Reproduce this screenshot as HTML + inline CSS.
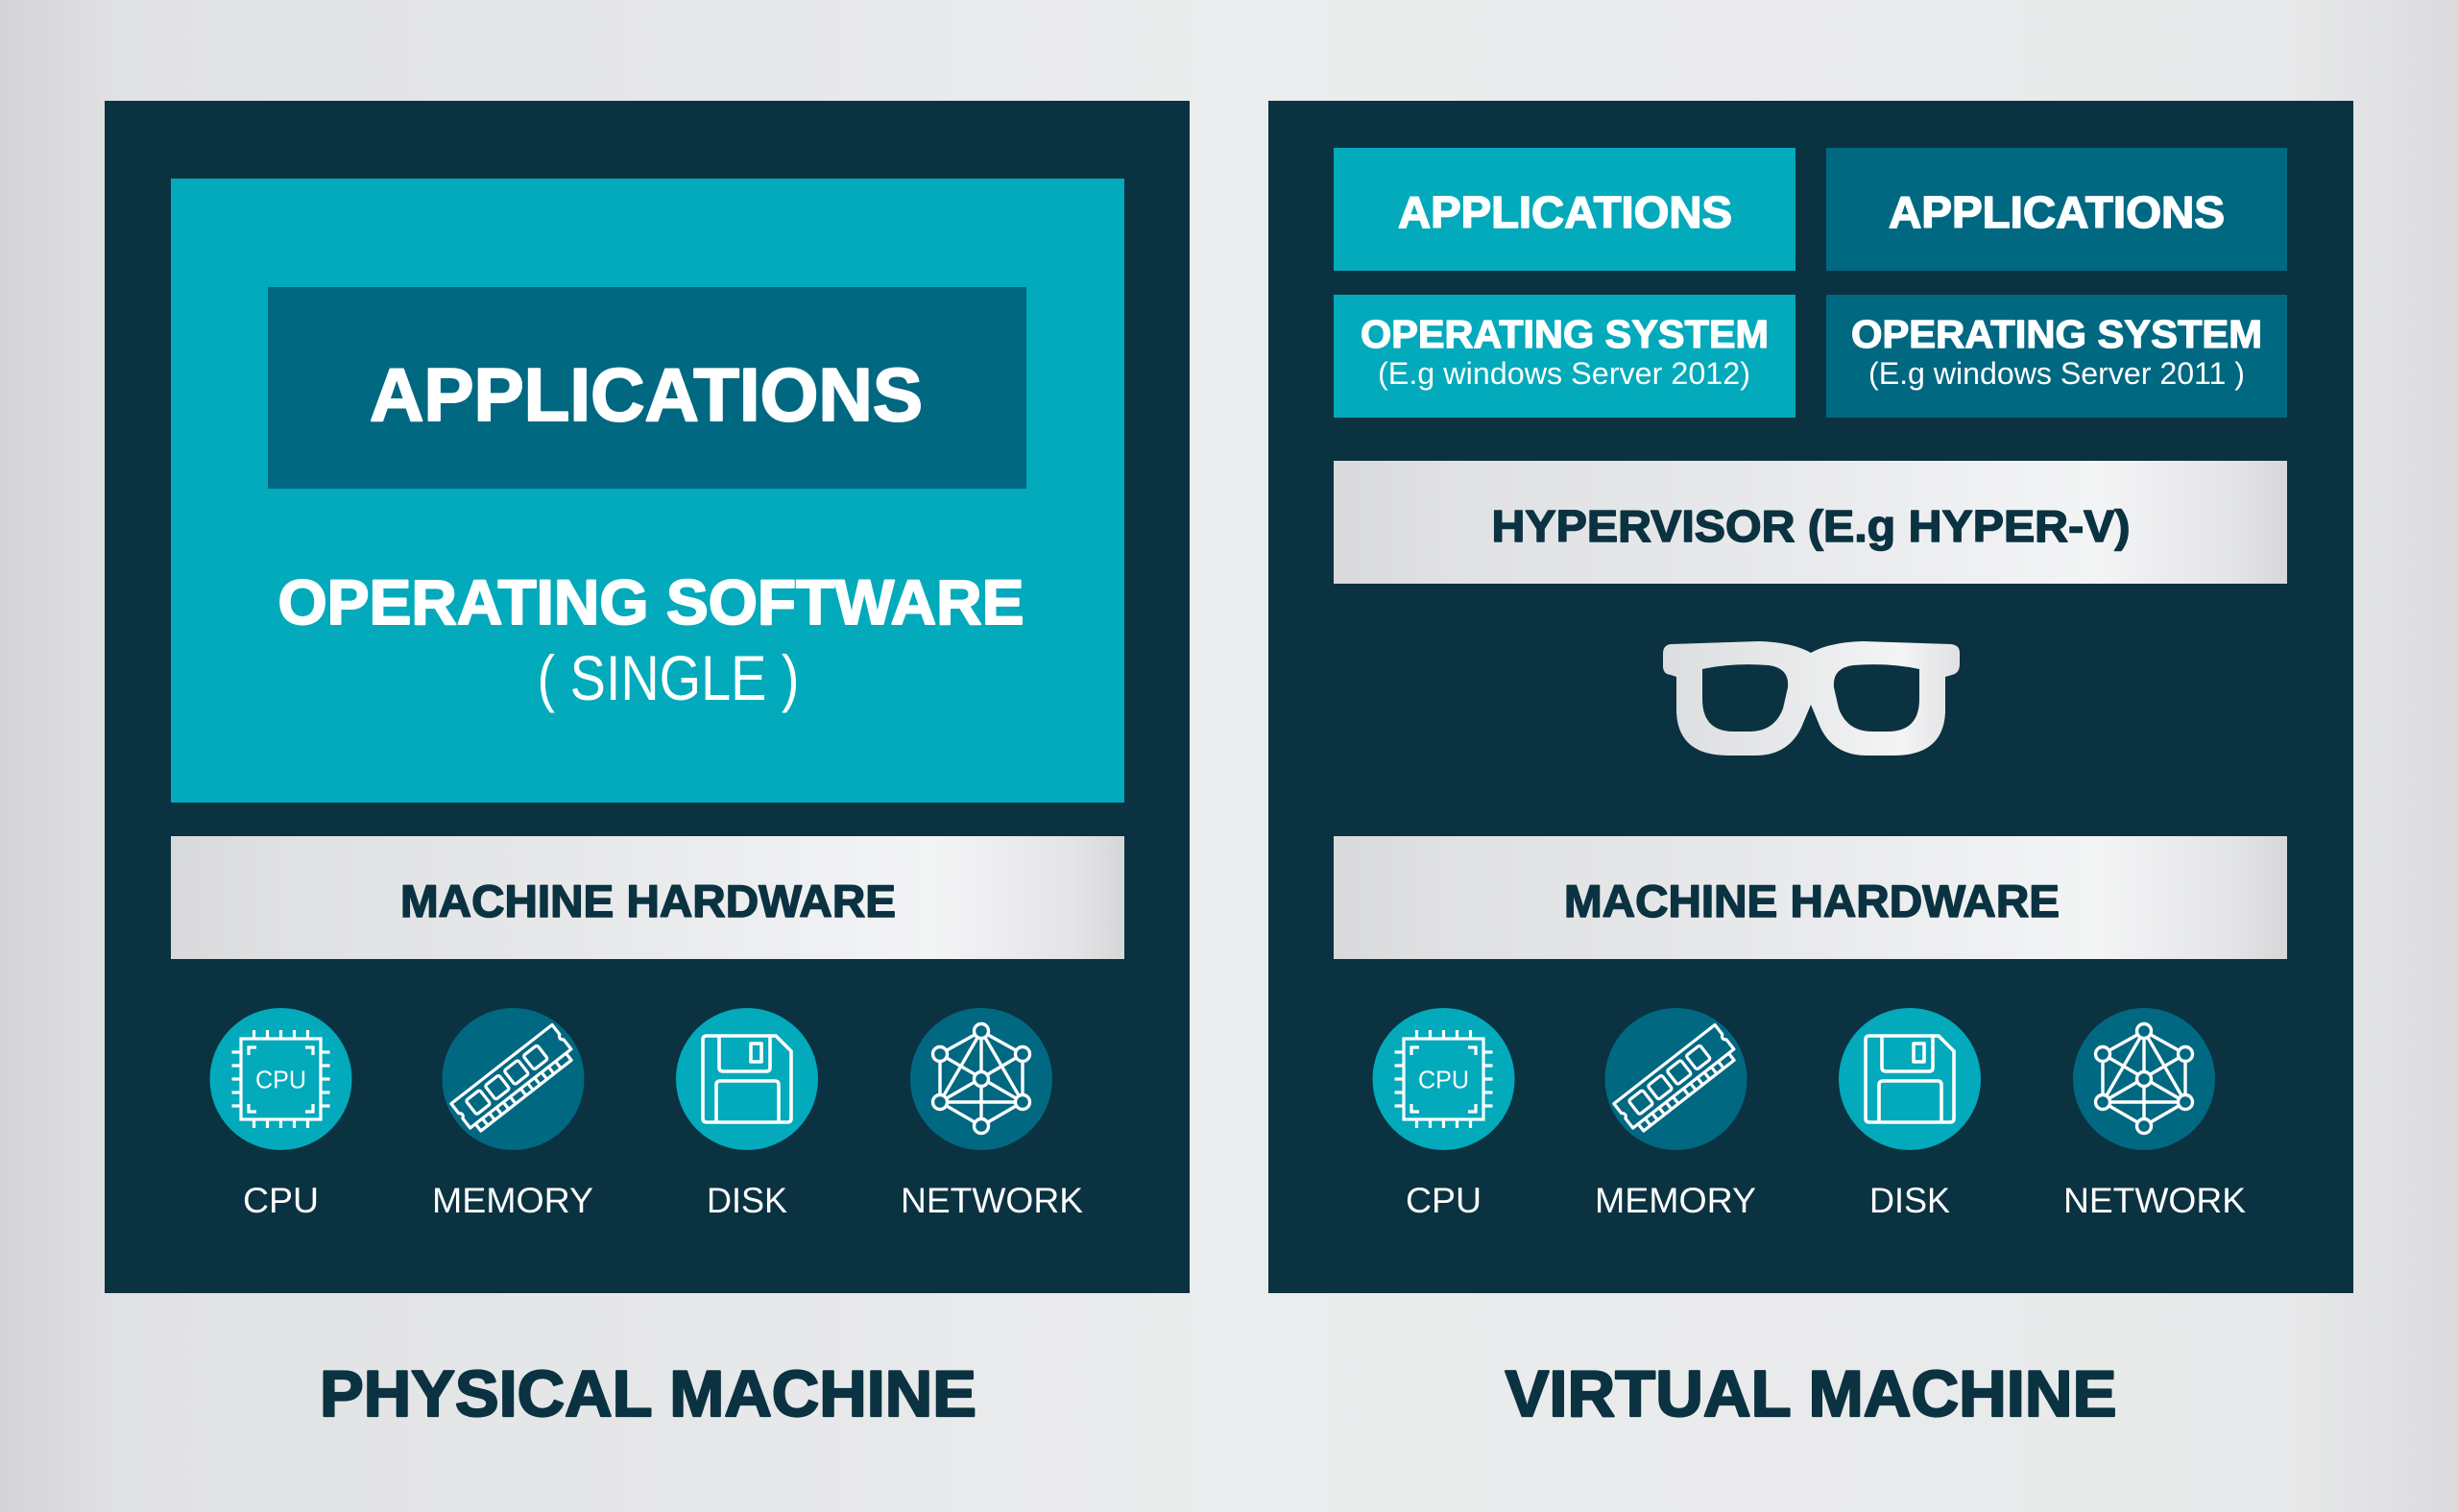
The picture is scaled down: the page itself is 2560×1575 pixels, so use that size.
<!DOCTYPE html>
<html>
<head>
<meta charset="utf-8">
<style>
  html,body{margin:0;padding:0;width:2560px;height:1575px;overflow:hidden;}
  svg{display:block;}
  text{font-family:"Liberation Sans",Arial,sans-serif;}
  .hb{paint-order:stroke;stroke-linejoin:round;}
</style>
</head>
<body>
<svg width="2560" height="1575" viewBox="0 0 2560 1575" xmlns="http://www.w3.org/2000/svg">
  <defs>
    <linearGradient id="bg" x1="0" y1="0" x2="1" y2="0">
      <stop offset="0" stop-color="#d3d4d6"/>
      <stop offset="0.05" stop-color="#e1e2e4"/>
      <stop offset="0.5" stop-color="#ebeced"/>
      <stop offset="0.93" stop-color="#e8e9ea"/>
      <stop offset="1" stop-color="#dadbdd"/>
    </linearGradient>
    <linearGradient id="bar" x1="0" y1="0" x2="1" y2="0">
      <stop offset="0" stop-color="#d8d9db"/>
      <stop offset="0.12" stop-color="#e0e1e3"/>
      <stop offset="0.5" stop-color="#e9eaec"/>
      <stop offset="0.8" stop-color="#f3f4f5"/>
      <stop offset="0.94" stop-color="#e4e5e7"/>
      <stop offset="1" stop-color="#d6d7d9"/>
    </linearGradient>
    <linearGradient id="gl" x1="0" y1="0" x2="1" y2="0">
      <stop offset="0" stop-color="#dcdddf"/>
      <stop offset="0.5" stop-color="#eaebec"/>
      <stop offset="0.8" stop-color="#f4f4f5"/>
      <stop offset="1" stop-color="#e0e1e3"/>
    </linearGradient>
  </defs>

  <!-- background -->
  <rect x="0" y="0" width="2560" height="1575" fill="url(#bg)"/>

  <!-- ================= LEFT PANEL ================= -->
  <rect x="109" y="105" width="1130" height="1242" fill="#0b3241"/>
  <rect x="178" y="186" width="993" height="650" fill="#02aabb"/>
  <rect x="279" y="299" width="790" height="210" fill="#016882"/>
  <text class="hb" x="673" y="438" font-size="78" font-weight="bold" fill="#ffffff" stroke="#ffffff" stroke-width="2" text-anchor="middle" textLength="576" lengthAdjust="spacingAndGlyphs">APPLICATIONS</text>
  <text class="hb" x="678" y="650" font-size="66" font-weight="bold" fill="#ffffff" stroke="#ffffff" stroke-width="2" text-anchor="middle" textLength="777" lengthAdjust="spacingAndGlyphs">OPERATING SOFTWARE</text>
  <text x="696" y="729" font-size="66" fill="#ffffff" text-anchor="middle" textLength="273" lengthAdjust="spacingAndGlyphs">( SINGLE )</text>

  <rect x="178" y="871" width="993" height="128" fill="url(#bar)"/>
  <text class="hb" x="675" y="955" font-size="47" font-weight="bold" fill="#0b3241" stroke="#0b3241" stroke-width="1.5" text-anchor="middle" textLength="516" lengthAdjust="spacingAndGlyphs">MACHINE HARDWARE</text>

  <!-- ================= RIGHT PANEL ================= -->
  <rect x="1321" y="105" width="1130" height="1242" fill="#0b3241"/>
  <rect x="1389" y="154" width="481" height="128" fill="#02aabb"/>
  <rect x="1902" y="154" width="480" height="128" fill="#016882"/>
  <rect x="1389" y="307" width="481" height="128" fill="#02aabb"/>
  <rect x="1902" y="307" width="480" height="128" fill="#016882"/>
  <text class="hb" x="1630" y="237" font-size="46" font-weight="bold" fill="#ffffff" stroke="#ffffff" stroke-width="1.5" text-anchor="middle" textLength="348" lengthAdjust="spacingAndGlyphs">APPLICATIONS</text>
  <text class="hb" x="2142" y="237" font-size="46" font-weight="bold" fill="#ffffff" stroke="#ffffff" stroke-width="1.5" text-anchor="middle" textLength="350" lengthAdjust="spacingAndGlyphs">APPLICATIONS</text>
  <text class="hb" x="1629.5" y="362" font-size="41" font-weight="bold" fill="#ffffff" stroke="#ffffff" stroke-width="1.3" text-anchor="middle" textLength="425" lengthAdjust="spacingAndGlyphs">OPERATING SYSTEM</text>
  <text x="1629" y="400" font-size="32" fill="#ffffff" text-anchor="middle" textLength="388" lengthAdjust="spacingAndGlyphs">(E.g windows Server 2012)</text>
  <text class="hb" x="2142" y="362" font-size="41" font-weight="bold" fill="#ffffff" stroke="#ffffff" stroke-width="1.3" text-anchor="middle" textLength="428" lengthAdjust="spacingAndGlyphs">OPERATING SYSTEM</text>
  <text x="2142" y="400" font-size="32" fill="#ffffff" text-anchor="middle" textLength="392" lengthAdjust="spacingAndGlyphs">(E.g windows Server 2011 )</text>

  <rect x="1389" y="480" width="993" height="128" fill="url(#bar)"/>
  <text class="hb" x="1886" y="564" font-size="46" font-weight="bold" fill="#0b3241" stroke="#0b3241" stroke-width="1.5" text-anchor="middle" textLength="665" lengthAdjust="spacingAndGlyphs">HYPERVISOR (E.g HYPER-V)</text>

  <!-- glasses -->
  <path fill="url(#gl)" fill-rule="evenodd" d="
    M1740,671 Q1732,672 1732,681 L1732,694 Q1732,702 1740,703 L1746,705 L1746,742
    Q1748,787 1800,787 L1828,787 Q1862,787 1876,758 L1886,734 L1896,758 Q1910,787 1944,787 L1972,787
    Q2024,787 2026,742 L2026,705 L2033,703 Q2041,701 2041,692 L2041,680 Q2041,672 2032,671
    L1940,668 Q1905,669 1886,680 Q1867,669 1832,668 Z
    M1773,697 L1773,728 Q1773,762 1806,762 L1822,762 Q1848,762 1857,738 L1862,716 Q1864,696 1842,693 Q1805,690 1773,697 Z
    M1999,697 L1999,728 Q1999,762 1966,762 L1950,762 Q1924,762 1915,738 L1910,716 Q1908,696 1930,693 Q1967,690 1999,697 Z"/>

  <rect x="1389" y="871" width="993" height="128" fill="url(#bar)"/>
  <text class="hb" x="1887" y="955" font-size="47" font-weight="bold" fill="#0b3241" stroke="#0b3241" stroke-width="1.5" text-anchor="middle" textLength="516" lengthAdjust="spacingAndGlyphs">MACHINE HARDWARE</text>

  <!-- ================= ICONS (left) ================= -->
  <g transform="translate(292.5,1124)">
    <circle r="74" fill="#02aabb"/>
    <g stroke="#ffffff" stroke-width="3.2" fill="none">
      <rect x="-41.5" y="-42" width="83" height="84"/>
      <path d="M-28,-51V-42M-14,-51V-42M0,-51V-42M14,-51V-42M28,-51V-42
               M-28,42V51M-14,42V51M0,42V51M14,42V51M28,42V51
               M-51,-28H-41.5M-51,-14H-41.5M-51,0H-41.5M-51,14H-41.5M-51,28H-41.5
               M41.5,-28H51M41.5,-14H51M41.5,0H51M41.5,14H51M41.5,28H51"/>
      <path d="M-33.5,-25V-33H-25.5M25.5,-33H33.5V-25M-33.5,26V34H-25.5M25.5,34H33.5V26"/>
    </g>
    <text x="0" y="9.5" font-size="26" fill="#ffffff" text-anchor="middle" textLength="53" lengthAdjust="spacingAndGlyphs">CPU</text>
  </g>
  <g transform="translate(534.5,1124)">
    <circle r="74" fill="#016882"/>
    <g transform="rotate(-38) scale(1.15)" stroke="#ffffff" stroke-width="2.8" fill="none" stroke-linejoin="round">
      <path d="M-58,-17 H58 V-6 Q54,-3 58,0 V11 H-58 V0 Q-54,-3 -58,-6 Z"/>
      <rect x="-46" y="-11" width="16" height="16" rx="2"/>
      <rect x="-24" y="-11" width="16" height="16" rx="2"/>
      <rect x="-2" y="-11" width="16" height="16" rx="2"/>
      <rect x="20" y="-11" width="16" height="16" rx="2"/>
      <path d="M-52,11V19H52V11"/>
      <path d="M-44,11V19M-36,11V19M-28,11V19M-20,11V19M-12,11V19M0,11V19M8,11V19M16,11V19M24,11V19M32,11V19M40,11V19"/>
    </g>
  </g>
  <g transform="translate(778,1124)">
    <circle r="74" fill="#02aabb"/>
    <g stroke="#ffffff" stroke-width="3.6" fill="none" stroke-linejoin="round">
      <path d="M-42,-45 H30 L46,-29 V41 Q46,45 42,45 H-42 Q-46,45 -46,41 V-41 Q-46,-45 -42,-45 Z"/>
      <path d="M-29,-45 V-12 Q-29,-8 -25,-8 H20 Q24,-8 24,-12 V-45"/>
      <rect x="4" y="-37" width="11" height="19"/>
      <path d="M-32,45 V6 Q-32,2 -28,2 H29 Q33,2 33,6 V45"/>
    </g>
  </g>
  <g transform="translate(1022,1124)">
    <circle r="74" fill="#016882"/>
    <g stroke="#ffffff" stroke-width="3.4" fill="none">
      <path d="M0,-50L-43,-26L-43,24L0,49L43,24L43,-26Z M0,-50V49 M0,-50L-43,24 M0,-50L43,24 M-43,24H43 M-43,-26L43,24 M43,-26L-43,24"/>
    </g>
    <g stroke="#ffffff" stroke-width="3.4" fill="#016882">
      <circle cx="0" cy="-50" r="7.5"/><circle cx="-43" cy="-26" r="7.5"/><circle cx="43" cy="-26" r="7.5"/>
      <circle cx="0" cy="0" r="7.5"/><circle cx="-43" cy="24" r="7.5"/><circle cx="43" cy="24" r="7.5"/>
      <circle cx="0" cy="49" r="7.5"/>
    </g>
  </g>

  <!-- ================= ICONS (right) ================= -->
  <g transform="translate(1503.5,1124)">
    <circle r="74" fill="#02aabb"/>
    <g stroke="#ffffff" stroke-width="3.2" fill="none">
      <rect x="-41.5" y="-42" width="83" height="84"/>
      <path d="M-28,-51V-42M-14,-51V-42M0,-51V-42M14,-51V-42M28,-51V-42
               M-28,42V51M-14,42V51M0,42V51M14,42V51M28,42V51
               M-51,-28H-41.5M-51,-14H-41.5M-51,0H-41.5M-51,14H-41.5M-51,28H-41.5
               M41.5,-28H51M41.5,-14H51M41.5,0H51M41.5,14H51M41.5,28H51"/>
      <path d="M-33.5,-25V-33H-25.5M25.5,-33H33.5V-25M-33.5,26V34H-25.5M25.5,34H33.5V26"/>
    </g>
    <text x="0" y="9.5" font-size="26" fill="#ffffff" text-anchor="middle" textLength="53" lengthAdjust="spacingAndGlyphs">CPU</text>
  </g>
  <g transform="translate(1745.5,1124)">
    <circle r="74" fill="#016882"/>
    <g transform="rotate(-38) scale(1.15)" stroke="#ffffff" stroke-width="2.8" fill="none" stroke-linejoin="round">
      <path d="M-58,-17 H58 V-6 Q54,-3 58,0 V11 H-58 V0 Q-54,-3 -58,-6 Z"/>
      <rect x="-46" y="-11" width="16" height="16" rx="2"/>
      <rect x="-24" y="-11" width="16" height="16" rx="2"/>
      <rect x="-2" y="-11" width="16" height="16" rx="2"/>
      <rect x="20" y="-11" width="16" height="16" rx="2"/>
      <path d="M-52,11V19H52V11"/>
      <path d="M-44,11V19M-36,11V19M-28,11V19M-20,11V19M-12,11V19M0,11V19M8,11V19M16,11V19M24,11V19M32,11V19M40,11V19"/>
    </g>
  </g>
  <g transform="translate(1989,1124)">
    <circle r="74" fill="#02aabb"/>
    <g stroke="#ffffff" stroke-width="3.6" fill="none" stroke-linejoin="round">
      <path d="M-42,-45 H30 L46,-29 V41 Q46,45 42,45 H-42 Q-46,45 -46,41 V-41 Q-46,-45 -42,-45 Z"/>
      <path d="M-29,-45 V-12 Q-29,-8 -25,-8 H20 Q24,-8 24,-12 V-45"/>
      <rect x="4" y="-37" width="11" height="19"/>
      <path d="M-32,45 V6 Q-32,2 -28,2 H29 Q33,2 33,6 V45"/>
    </g>
  </g>
  <g transform="translate(2233,1124)">
    <circle r="74" fill="#016882"/>
    <g stroke="#ffffff" stroke-width="3.4" fill="none">
      <path d="M0,-50L-43,-26L-43,24L0,49L43,24L43,-26Z M0,-50V49 M0,-50L-43,24 M0,-50L43,24 M-43,24H43 M-43,-26L43,24 M43,-26L-43,24"/>
    </g>
    <g stroke="#ffffff" stroke-width="3.4" fill="#016882">
      <circle cx="0" cy="-50" r="7.5"/><circle cx="-43" cy="-26" r="7.5"/><circle cx="43" cy="-26" r="7.5"/>
      <circle cx="0" cy="0" r="7.5"/><circle cx="-43" cy="24" r="7.5"/><circle cx="43" cy="24" r="7.5"/>
      <circle cx="0" cy="49" r="7.5"/>
    </g>
  </g>

  <!-- labels -->
  <g font-size="37" fill="#ffffff" text-anchor="middle">
    <text x="292.5" y="1263" textLength="79" lengthAdjust="spacingAndGlyphs">CPU</text>
    <text x="534" y="1263" textLength="168" lengthAdjust="spacingAndGlyphs">MEMORY</text>
    <text x="778" y="1263" textLength="84" lengthAdjust="spacingAndGlyphs">DISK</text>
    <text x="1033" y="1263" textLength="190" lengthAdjust="spacingAndGlyphs">NETWORK</text>
    <text x="1503.5" y="1263" textLength="79" lengthAdjust="spacingAndGlyphs">CPU</text>
    <text x="1745" y="1263" textLength="168" lengthAdjust="spacingAndGlyphs">MEMORY</text>
    <text x="1989" y="1263" textLength="84" lengthAdjust="spacingAndGlyphs">DISK</text>
    <text x="2244" y="1263" textLength="190" lengthAdjust="spacingAndGlyphs">NETWORK</text>
  </g>

  <!-- bottom titles -->
  <text class="hb" x="675" y="1475" font-size="68" font-weight="bold" fill="#0b3241" stroke="#0b3241" stroke-width="2.2" text-anchor="middle" textLength="684" lengthAdjust="spacingAndGlyphs">PHYSICAL MACHINE</text>
  <text class="hb" x="1886" y="1475" font-size="68" font-weight="bold" fill="#0b3241" stroke="#0b3241" stroke-width="2.2" text-anchor="middle" textLength="637" lengthAdjust="spacingAndGlyphs">VIRTUAL MACHINE</text>
</svg>
</body>
</html>
